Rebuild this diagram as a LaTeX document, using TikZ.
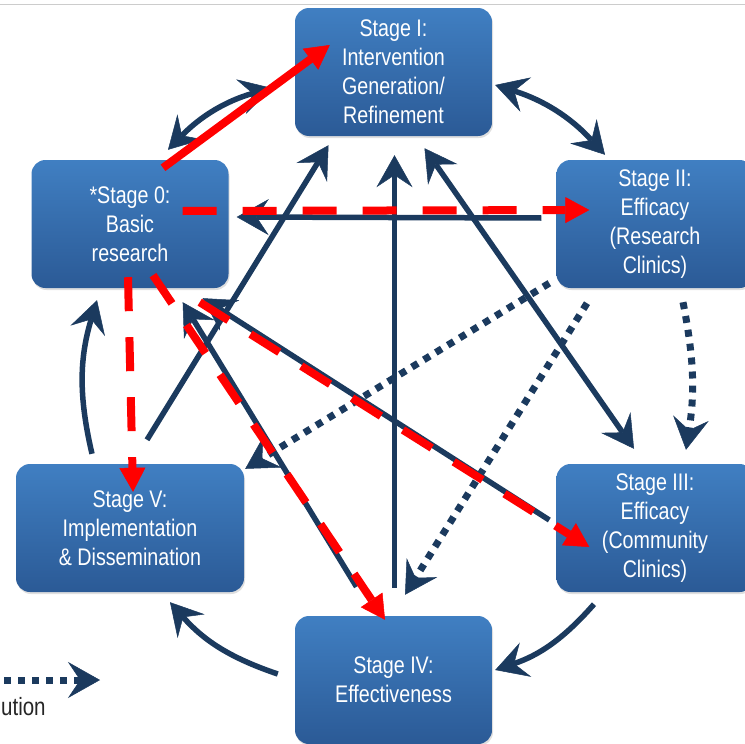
\documentclass[tikz,border=0pt]{standalone}
\usepackage{fontspec}
\setmainfont{Liberation Sans}[FakeStretch=0.82]
\usepackage{tikz}
\usetikzlibrary{arrows.meta}
\usetikzlibrary{calc}
\usetikzlibrary{shadows}
\usepackage{xcolor}

\definecolor{navy}{HTML}{1B3A5E}
\definecolor{boxtop}{HTML}{407FC2}
\definecolor{boxbot}{HTML}{2B5A96}
\definecolor{alarm}{HTML}{FF0000}

\tikzset{
  stagebox/.style={rectangle, rounded corners=14pt, minimum width=197pt, minimum height=128pt, inner sep=0pt, top color=boxtop, bottom color=boxbot, text=white, align=center, font=\fontsize{24}{29}\selectfont, drop shadow={opacity=0.25, shadow xshift=1pt, shadow yshift=-2pt}},
  navyhead/.tip={Stealth[length=32pt, width=36pt, inset=12pt, line width=0.5pt]},
  redtip/.tip={Triangle[length=24pt, width=26pt, line width=0.5pt]},
  flow/.style={draw=navy, line width=5.5pt, -navyhead},
  twoway/.style={draw=navy, line width=5.5pt, navyhead-navyhead},
  dotflow/.style={draw=navy, line width=7pt, dash pattern=on 7pt off 7pt, -navyhead},
  redflow/.style={draw=alarm, line width=8pt, -redtip},
  reddash/.style={redflow, dash pattern=on 34pt off 26pt},
}

\begin{document}
\begin{tikzpicture}[x=1pt, y=-1pt]
\useasboundingbox (0,0) rectangle (745,744);
\clip (0,0) rectangle (745,744);

\draw[black!20, line width=1pt] (0,4) -- (745,4);

\node[stagebox] (s1) at (393.5,72) {Stage I:\\Intervention\\Generation/\\Refinement};
\node[stagebox] (s0) at (130,224) {*Stage 0:\\Basic\\research};
\node[stagebox] (s2) at (655,224) {Stage II:\\Efficacy\\(Research\\Clinics)};
\node[stagebox] (s3) at (655,528) {Stage III:\\Efficacy\\(Community\\Clinics)};
\node[stagebox] (s4) at (393.5,680) {Stage IV:\\Effectiveness};
\node[stagebox, minimum width=228pt] (s5) at (130,528) {Stage V:\\Implementation\\\& Dissemination};

\draw[twoway] ($(s0.north)+(38,-10)$) to[bend left=15] ($(s1.west)+(-23,16)$);
\draw[twoway] ($(s1.east)+(3,13)$) to[bend left=15] ($(s2.north)+(-50,-5)$);
\draw[dotflow] ($(s2.south)+(28,14)$) to[bend left=10] ($(s3.north)+(31,-14)$);
\draw[flow] ($(s3.south)+(-61,12)$) to[bend left=15] ($(s4.east)+(3,-10)$);
\draw[flow] ($(s4.west)+(-17,-6)$) to[bend left=15] ($(s5.south)+(40,10)$);
\draw[flow] ($(s5.north)+(-38,-10)$) to[bend left=15] ($(s0.south)+(-33,12)$);

\draw[flow] ($(s5.north)+(17,-24)$) to ($(s1.south)+(-65,9)$);
\draw[flow] ($(s4.north)+(1,-28)$) to ($(s1.south)+(1,19)$);
\draw[flow] ($(s4.north)+(-37,-29)$) to ($(s0.south east)+(-46,14)$);
\draw[flow] ($(s3.west)+(-7,-8)$) to ($(s0.south east)+(-26,10)$);
\draw[twoway] ($(s1.south)+(31,12)$) to ($(s3.north)+(-21,-15)$);
\draw[flow] ($(s2.west)+(-15,-6)$) to ($(s0.east)+(8,-7)$);

\draw[dotflow] ($(s2.south west)+(-7,-5)$) to ($(s5.north east)+(1,5)$);
\draw[dotflow] ($(s2.south)+(-68,15)$) to ($(s4.north)+(11.5,-21)$);

\coordinate (legA) at (-10,680);
\coordinate (legB) at (100,680);
\draw[dotflow] (legA) to (legB);
\node[anchor=base west, inner sep=0pt, font=\fontsize{25}{29}\selectfont, text=black!85] (legtext) at (1,715) {ution};

\draw[redflow] ($(s0.north)+(33,8)$) to ($(s1.west)+(35,-27)$);
\draw[reddash] ($(s0.east)+(-46,-13)$) to ($(s2.west)+(33,-14)$);
\draw[reddash] ($(s0.south)+(-2,-11)$) to ($(s5.north)+(3,28)$);
\draw[reddash] ($(s0.south)+(23,-13)$) to ($(s4.north)+(-8.5,4)$);
\draw[reddash] ($(s0.south east)+(-29,14)$) to ($(s3.west)+(33,19)$);

\end{tikzpicture}
\end{document}
